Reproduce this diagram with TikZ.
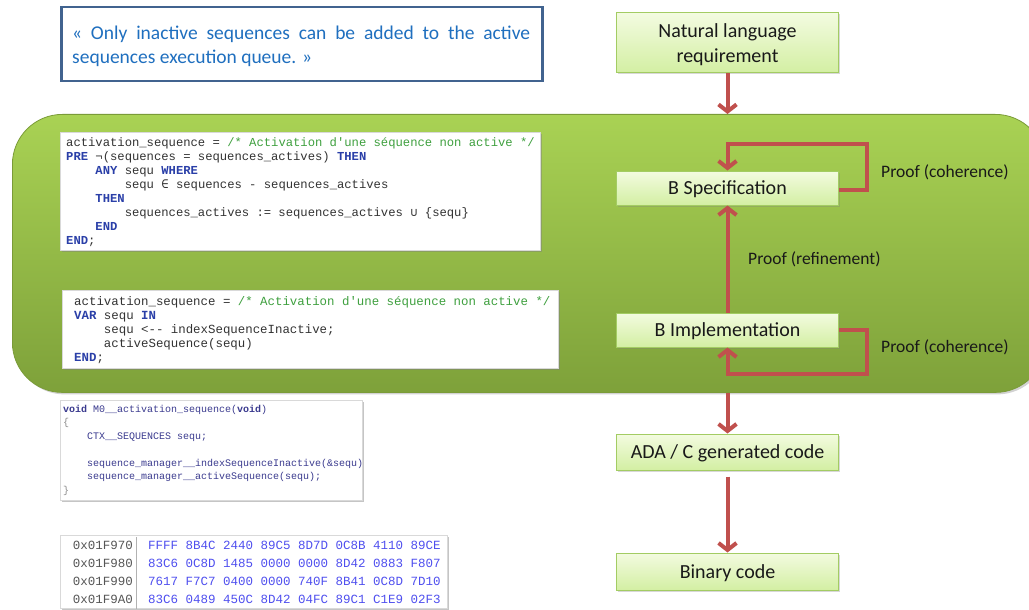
\documentclass[tikz,border=0pt]{standalone}
\usepackage{fontspec}
\setmainfont{Carlito}
\setmonofont{Liberation Mono}
\newfontfamily\symfont{DejaVu Sans Mono}
\usetikzlibrary{shadows,arrows.meta}
\definecolor{arrowred}{HTML}{C0504D}
\definecolor{quoteblue}{HTML}{1F6FBF}
\definecolor{quoteframe}{HTML}{41638F}
\definecolor{greenTop}{HTML}{A9D254}
\definecolor{greenBot}{HTML}{7EA13A}
\definecolor{greenEdge}{HTML}{7A9B38}
\definecolor{boxTop}{HTML}{F3FBE0}
\definecolor{boxBot}{HTML}{D3EFA3}
\definecolor{boxFrame}{HTML}{A3CC63}
\definecolor{kwblue}{HTML}{2A3FA8}
\definecolor{cmtgreen}{HTML}{3FA03F}
\definecolor{codegray}{HTML}{333333}
\definecolor{cnavy}{HTML}{3B3B8F}
\definecolor{hexblue}{HTML}{4F4FEF}
\definecolor{addrgray}{HTML}{555555}
\newcommand{\kw}[1]{{\bfseries\color{kwblue}#1}}
\newcommand{\cmt}[1]{{\color{cmtgreen}#1}}
\newcommand{\ind}{\hphantom{0000}}
\tikzset{
  flowbox/.style={draw=boxFrame, line width=1pt, top color=boxTop, bottom color=boxBot,
    minimum width=222pt, minimum height=35pt, inner sep=2pt, text=black!90,
    font=\fontsize{20}{25}\selectfont, align=center, text height=14pt, text depth=1pt,
    drop shadow={shadow xshift=1.5pt, shadow yshift=-1.5pt, opacity=0.3}},
  flowtext/.style={font=\fontsize{20}{25}\selectfont, align=center, text=black!90, inner sep=0pt},
  flowarrow/.style={draw=arrowred, line width=4pt, line join=miter,
    -{Straight Barb[length=7pt,width=18pt]}},
  prooflabel/.style={font=\fontsize{17.5}{20}\selectfont, anchor=west, text=black!90, inner sep=0pt},
  codeframe/.style={fill=white, draw=black!15, line width=0.5pt, anchor=north west,
    drop shadow={shadow xshift=2pt, shadow yshift=-2pt, opacity=0.45}},
  codetext/.style={align=left, inner sep=0pt, anchor=north west, text=codegray},
  greenarea/.style={draw=greenEdge, line width=0.8pt, top color=greenTop, bottom color=greenBot,
    rounded corners=50pt, anchor=north west,
    drop shadow={shadow xshift=2pt, shadow yshift=-2pt, opacity=0.35}},
}
\begin{document}
\begin{tikzpicture}[x=1pt,y=-1pt]
\useasboundingbox (0,0) rectangle (1029,610);
\clip (0,0) rectangle (1029,610);
\fill[white] (0,0) rectangle (1029,610);

% quote
\node[draw=quoteframe, line width=2.5pt, fill=white, anchor=north west,
  minimum width=481pt, minimum height=74pt] (quoteframe) at (60,6) {};
\node[anchor=north west, inner sep=0pt, text=quoteblue, align=left,
  font=\fontsize{19.5}{24}\selectfont] (quote) at (72,26)
  {\makebox[458pt][s]{« Only inactive sequences can be added to the active}\\
   sequences execution queue. »};

% green zone
\node[greenarea, minimum width=1033pt, minimum height=278pt] (bzone) at (12,114) {};

% B spec code
\node[codeframe, minimum width=480pt, minimum height=118pt] (specframe) at (60,132) {};
\node[codetext, font=\ttfamily\fontsize{12.2}{14}\selectfont] (speccode) at (66,137) {%
activation\_sequence = \cmt{/* Activation d'une séquence non active */}\\
\kw{PRE} ¬(sequences = sequences\_actives) \kw{THEN}\\
\ind\kw{ANY} sequ \kw{WHERE}\\
\ind\ind sequ {\symfont ∈} sequences - sequences\_actives\\
\ind\kw{THEN}\\
\ind\ind sequences\_actives := sequences\_actives {\symfont ∪} \{sequ\}\\
\ind\kw{END}\\
\kw{END};};

% B impl code
\node[codeframe, minimum width=496pt, minimum height=78pt] (implframe) at (62,290) {};
\node[codetext, font=\ttfamily\fontsize{12.4}{14}\selectfont] (implcode) at (74,296) {%
activation\_sequence = \cmt{/* Activation d'une séquence non active */}\\
\kw{VAR} sequ \kw{IN}\\
\ind sequ <{}-{}- indexSequenceInactive;\\
\ind activeSequence(sequ)\\
\kw{END};};

% C code
\node[codeframe, minimum width=302pt, minimum height=100pt] (cframe) at (60,400) {};
\begin{scope}
\clip (cframe.north west) rectangle (cframe.south east);
\node[codetext, text=cnavy, font=\ttfamily\fontsize{10}{13.5}\selectfont] (ccode) at (63,405) {%
{\bfseries void} M0\_\_activation\_sequence({\bfseries void})\\
{\color{black!45}\{}\\
\ind CTX\_\_SEQUENCES sequ;\\
\mbox{}\\
\ind sequence\_manager\_\_indexSequenceInactive(\&sequ);\\
\ind sequence\_manager\_\_activeSequence(sequ);\\
{\color{black!45}\}}};
\end{scope}

% hex
\node[codeframe, minimum width=387pt, minimum height=73pt] (hexframe) at (60,535) {};
\draw[black!30, line width=1pt] (hexframe.north west) ++(76,2) coordinate (sepTop) -- (sepTop |- hexframe.south);
\node[codetext, anchor=north east, align=right, text=addrgray, font=\ttfamily\fontsize{12.5}{18}\selectfont] (addr) at (133,541) {%
0x01F970\\0x01F980\\0x01F990\\0x01F9A0};
\node[codetext, text=hexblue, font=\ttfamily\fontsize{12.5}{18}\selectfont] (hex) at (148,541) {%
FFFF 8B4C 2440 89C5 8D7D 0C8B 4110 89CE\\
83C6 0C8D 1485 0000 0000 8D42 0883 F807\\
7617 F7C7 0400 0000 740F 8B41 0C8D 7D10\\
83C6 0489 450C 8D42 04FC 89C1 C1E9 02F3};

% flow boxes
\node[flowbox, minimum height=60pt] (nat) at (727.5,43) {};
\node[flowtext] (nattext) at ([yshift=-2pt]nat.center) {Natural language\\requirement};
\node[flowbox, minimum height=34pt] (spec) at (727.5,188) {B Specification};
\node[flowbox, minimum height=34pt] (impl) at (727.5,330) {B Implementation};
\node[flowbox, minimum height=36pt] (adac) at (727.5,452) {ADA / C generated code};
\node[flowbox, minimum height=37pt] (bin) at (727.5,571.5) {Binary code};

% arrows
\draw[flowarrow] (nat.south) -- (nat.south |- bzone.north);
\draw[flowarrow] (impl.north) -- (spec.south);
\draw[flowarrow] ([yshift=-2pt]spec.east) -- ++(28,0) -- ++(0,-46) -| (spec.north);
\draw[flowarrow] (impl.east) -- ++(28,0) -- ++(0,44) -| (impl.south);
\draw[flowarrow] (nat.south |- bzone.south) -- (adac.north);
\draw[flowarrow] ([yshift=-6pt]adac.south) -- (bin.north);

% labels
\node[prooflabel] (coh1) at (881,172) {Proof (coherence)};
\node[prooflabel] (refi) at (748,259) {Proof (refinement)};
\node[prooflabel] (coh2) at (881,347) {Proof (coherence)};
\end{tikzpicture}
\end{document}
